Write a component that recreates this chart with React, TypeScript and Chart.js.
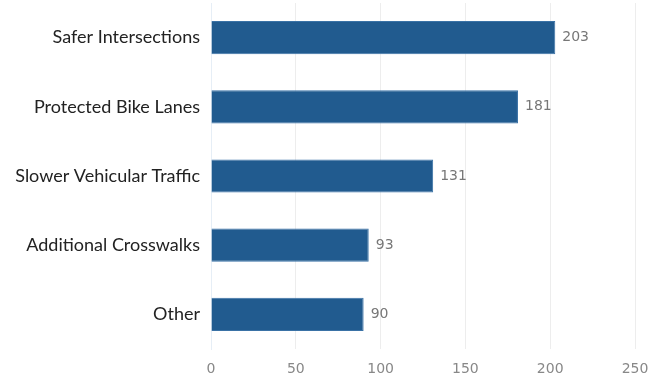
import React, { useEffect, useRef } from "react";
import { Chart, registerables } from "chart.js";

Chart.register(...registerables);

const categories = [
  "Safer Intersections",
  "Protected Bike Lanes",
  "Slower Vehicular Traffic",
  "Additional Crosswalks",
  "Other",
];
const values = [203, 181, 131, 93, 90];
const xTicks = [0, 50, 100, 150, 200, 250];

const valueLabels = {
  id: "valueLabels",
  afterDatasetsDraw(chart: any) {
    const ctx = chart.ctx;
    const meta = chart.getDatasetMeta(0);
    ctx.save();
    ctx.font = "14px 'DejaVu Sans', sans-serif";
    ctx.fillStyle = "#777";
    ctx.textAlign = "left";
    ctx.textBaseline = "middle";
    meta.data.forEach((bar: any, i: number) => {
      ctx.fillText(String(values[i]), bar.x + 7, bar.y);
    });
    ctx.restore();
  },
};

export default function App() {
  const ref = useRef<HTMLCanvasElement>(null);
  useEffect(() => {
    if (!ref.current) return;
    const chart = new Chart(ref.current, {
      type: "bar",
      data: {
        labels: categories,
        datasets: [
          {
            data: values,
            backgroundColor: "#215b8f",
            borderColor: "#3a72a6",
            borderWidth: 1,
            barPercentage: 0.48,
            categoryPercentage: 1,
          },
        ],
      },
      options: {
        indexAxis: "y",
        animation: false,
        responsive: false,
        maintainAspectRatio: false,
        layout: { padding: { left: 0, right: 16, top: 3, bottom: 4 } },
        plugins: { legend: { display: false }, tooltip: { enabled: false } },
        scales: {
          x: {
            min: 0,
            max: 250,
            afterBuildTicks(scale: any) {
              scale.ticks = xTicks.map((v) => ({ value: v }));
            },
            afterFit(scale: any) {
              scale.height = 28;
              scale.paddingTop = 0;
              scale.paddingBottom = 0;
              scale.paddingLeft = 0;
              scale.paddingRight = 0;
            },
            grid: { color: "#ededed", drawTicks: false },
            border: { display: false },
            ticks: {
              padding: 12,
              color: "#888",
              font: { family: "'DejaVu Sans', sans-serif", size: 14 },
            },
          },
          y: {
            afterFit(scale: any) {
              scale.width = 211;
              scale.paddingTop = 0;
              scale.paddingBottom = 0;
            },
            grid: { display: false, drawTicks: false },
            border: { display: true, color: "#e6eef6" },
            ticks: {
              padding: 11,
              color: "#222",
              font: { family: "Lato, 'Open Sans', sans-serif", size: 18 },
            },
          },
        },
      },
      plugins: [valueLabels],
    });
    return () => chart.destroy();
  }, []);
  return (
    <div style={{ position: "fixed", left: 0, top: 0, width: 651, height: 381, background: "#fff" }}>
      <canvas ref={ref} width={651} height={381} style={{ display: "block" }} />
    </div>
  );
}
